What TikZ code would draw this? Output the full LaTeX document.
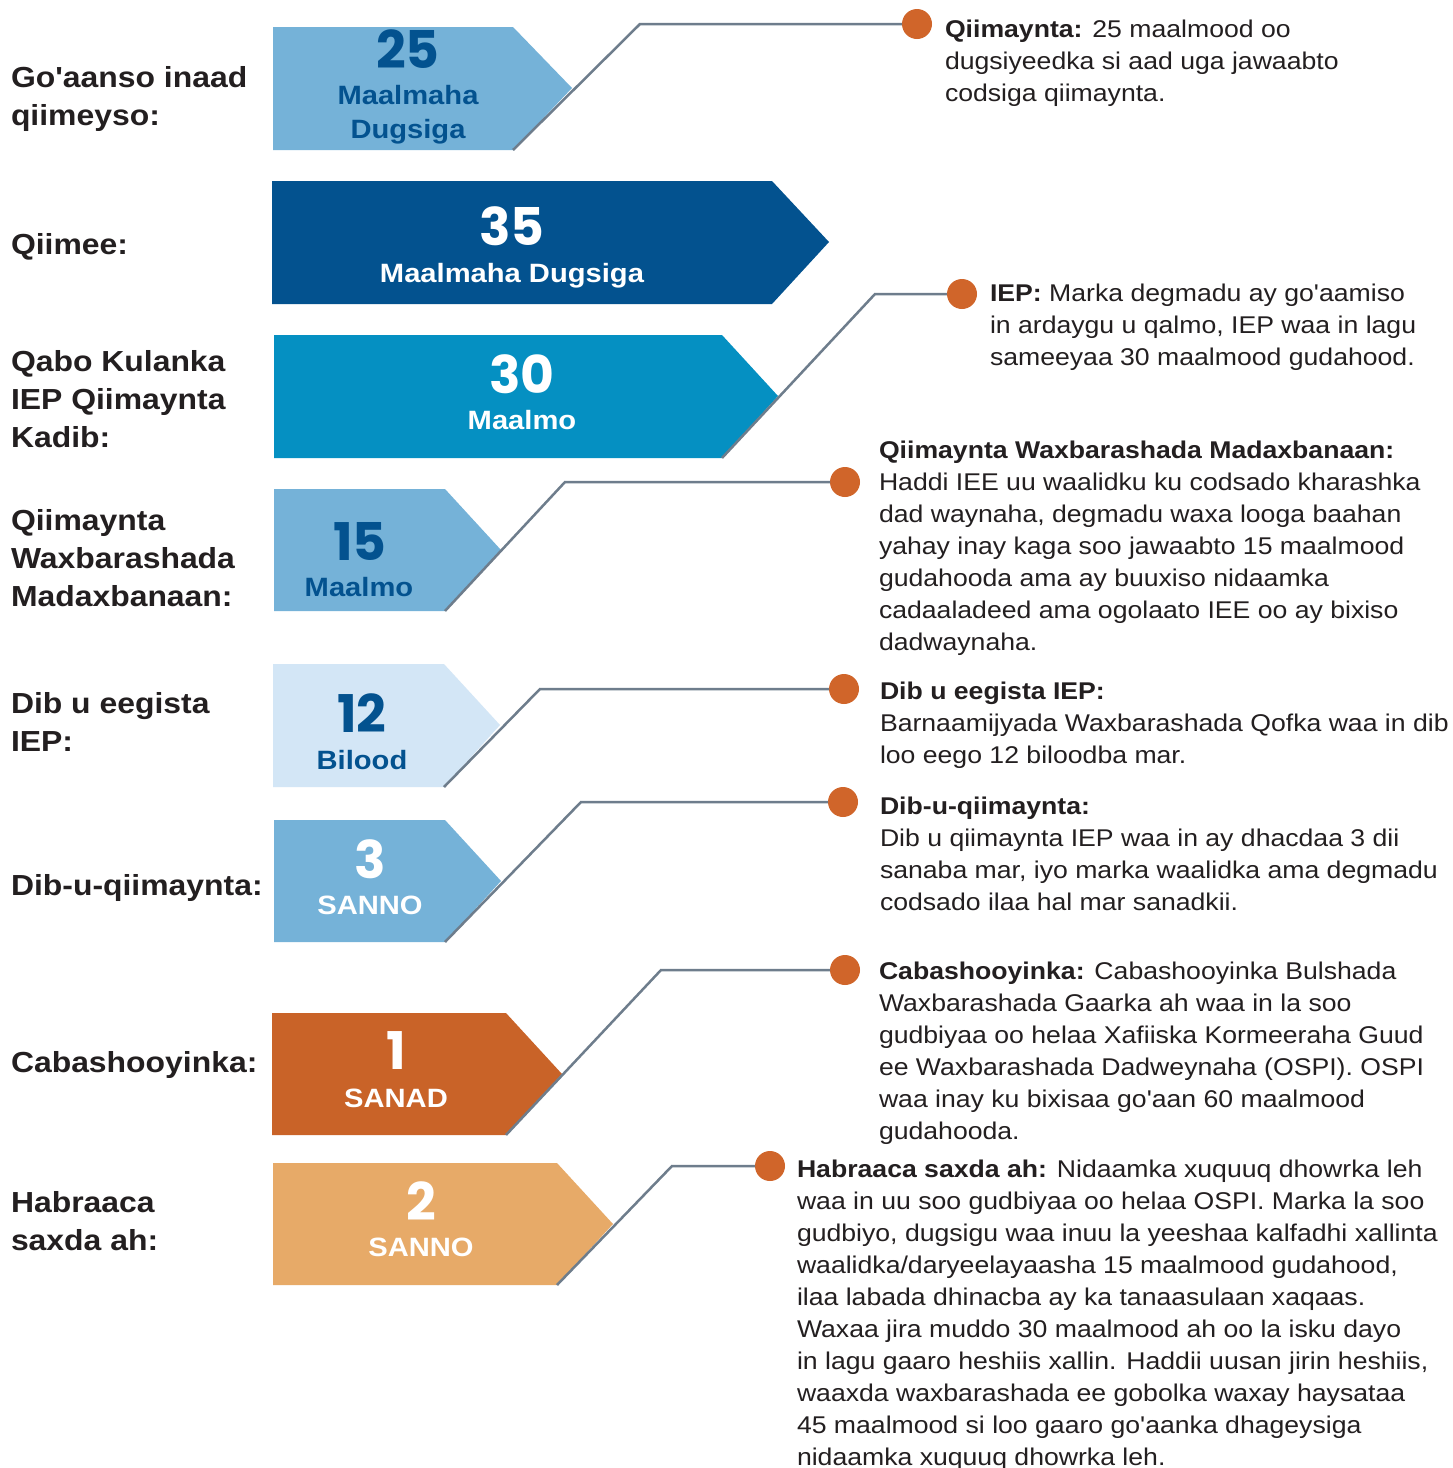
\documentclass[tikz,border=0pt]{standalone}
\usepackage{fontspec}
\setmainfont[Ligatures=TeXOff,FakeStretch=1.1]{Liberation Sans}
\newfontfamily\numfont{Poppins}

\definecolor{ink}{HTML}{231F20}
\definecolor{skyblue}{HTML}{75B2D8}
\definecolor{deepblue}{HTML}{03528F}
\definecolor{oceanblue}{HTML}{0590C2}
\definecolor{paleblue}{HTML}{D3E6F6}
\definecolor{rust}{HTML}{C96328}
\definecolor{sand}{HTML}{E7AA68}
\definecolor{dotorange}{HTML}{D0652A}
\definecolor{linkgray}{HTML}{6E7D8C}

\begin{document}
\begin{tikzpicture}
  [x=1pt,y=-1pt,
   every node/.style={inner sep=0pt,outer sep=0pt},
   lab/.style={anchor=north west,align=left,text=ink,font=\bfseries\fontsize{29}{38}\selectfont},
   info/.style={anchor=north west,align=left,text=ink,font=\fontsize{24.2}{32}\selectfont},
   num/.style={font=\numfont\bfseries\fontsize{52}{52}\selectfont},
   span/.style={anchor=base,font=\bfseries\fontsize{26.5}{34}\selectfont},
   bullet/.style={circle,fill=dotorange,minimum size=30pt},
   link/.style={draw=linkgray,line width=2.5pt}]
  \useasboundingbox[fill=white] (0,0) rectangle (1453,1468);

  % arrows
  \fill[skyblue]   (273,27) -- (513,27) -- (572,88) -- (513,150) -- (273,150) -- cycle;
  \fill[deepblue]  (272,181) -- (772,181) -- (829,242) -- (772,304) -- (272,304) -- cycle;
  \fill[oceanblue] (274,335) -- (722,335) -- (778,396) -- (722,458) -- (274,458) -- cycle;
  \fill[skyblue]   (274,489) -- (445,489) -- (501,550) -- (445,611) -- (274,611) -- cycle;
  \fill[paleblue]  (273,664) -- (444,664) -- (500,725) -- (444,787) -- (273,787) -- cycle;
  \fill[skyblue]   (274,820) -- (445,820) -- (501,881) -- (445,942) -- (274,942) -- cycle;
  \fill[rust]      (272,1013) -- (506,1013) -- (562,1074) -- (506,1135) -- (272,1135) -- cycle;
  \fill[sand]      (273,1163) -- (557,1163) -- (613,1224) -- (557,1285) -- (273,1285) -- cycle;

  % lower corners where the leaders start
  \coordinate (c1) at (513,150);
  \coordinate (c3) at (722,458);
  \coordinate (c4) at (445,611);
  \coordinate (c5) at (444,787);
  \coordinate (c6) at (445,942);
  \coordinate (c7) at (506,1135);
  \coordinate (c8) at (557,1285);

  % bends
  \coordinate (k1) at (640,24);
  \coordinate (k3) at (875,294);
  \coordinate (k4) at (565,482);
  \coordinate (k5) at (540,689);
  \coordinate (k6) at (581,802);
  \coordinate (k7) at (661,970);
  \coordinate (k8) at (672,1166);

  % dots
  \node[bullet] (d1) at (917,24) {};
  \node[bullet] (d3) at (962,294) {};
  \node[bullet] (d4) at (845,482) {};
  \node[bullet] (d5) at (844,689) {};
  \node[bullet] (d6) at (843,802) {};
  \node[bullet] (d7) at (845,970) {};
  \node[bullet] (d8) at (770,1166) {};

  % leaders
  \draw[link] (c1) -- (k1) -- (d1);
  \draw[link] (c3) -- (k3) -- (d3);
  \draw[link] (c4) -- (k4) -- (d4);
  \draw[link] (c5) -- (k5) -- (d5);
  \draw[link] (c6) -- (k6) -- (d6);
  \draw[link] (c7) -- (k7) -- (d7);
  \draw[link] (c8) -- (k8) -- (d8);

  % numbers and units
  \node[num,text=deepblue] (n1) at (408,49) {25};
  \node[span,text=deepblue,anchor=north,align=center] (u1) at (408,85) {Maalmaha\\Dugsiga};
  \node[num,text=white] (n2) at (512,226) {35};
  \node[span,text=white] (u2) at (512,282) {Maalmaha Dugsiga};
  \node[num,text=white] (n3) at (522,374) {30};
  \node[span,text=white] (u3) at (522,429) {Maalmo};
  \node[num,text=deepblue] (n4) at (360,541) {15};
  \node[span,text=deepblue] (u4) at (359,596) {Maalmo};
  \node[num,text=deepblue] (n5) at (362,713) {12};
  \node[span,text=deepblue] (u5) at (362,769) {Bilood};
  \node[num,text=white] (n6) at (370,859) {3};
  \node[span,text=white] (u6) at (370,914) {SANNO};
  \node[num,text=white] (n7) at (396,1051) {1};
  \node[span,text=white] (u7) at (396,1107) {SANAD};
  \node[num,text=white] (n8) at (421,1201) {2};
  \node[span,text=white] (u8) at (421,1256) {SANNO};

  % left labels
  \node[lab] (l1) at (11,66) {Go'aanso inaad\\qiimeyso:};
  \node[lab] (l2) at (11,233) {Qiimee:};
  \node[lab] (l3) at (11,350) {Qabo Kulanka\\IEP Qiimaynta\\Kadib:};
  \node[lab] (l4) at (11,509) {Qiimaynta\\Waxbarashada\\Madaxbanaan:};
  \node[lab] (l5) at (11,692) {Dib u eegista\\IEP:};
  \node[lab] (l6) at (11,874) {Dib-u-qiimaynta:};
  \node[lab] (l7) at (11,1051) {Cabashooyinka:};
  \node[lab] (l8) at (11,1191) {Habraaca\\saxda ah:};

  % notes
  \node[info] (t1) at (945,20) {\textbf{Qiimaynta:} 25 maalmood oo\\dugsiyeedka si aad uga jawaabto\\codsiga qiimaynta.};
  \node[info] (t3) at (990,284) {\textbf{IEP:} Marka degmadu ay go'aamiso\\in ardaygu u qalmo, IEP waa in lagu\\sameeyaa 30 maalmood gudahood.};
  \node[info] (t4) at (879,441) {\textbf{Qiimaynta Waxbarashada Madaxbanaan:}\\Haddi IEE uu waalidku ku codsado kharashka\\dad waynaha, degmadu waxa looga baahan\\yahay inay kaga soo jawaabto 15 maalmood\\gudahooda ama ay buuxiso nidaamka\\cadaaladeed ama ogolaato IEE oo ay bixiso\\dadwaynaha.};
  \node[info] (t5) at (880,682) {\textbf{Dib u eegista IEP:}\\Barnaamijyada Waxbarashada Qofka waa in dib\\loo eego 12 biloodba mar.};
  \node[info] (t6) at (880,797) {\textbf{Dib-u-qiimaynta:}\\Dib u qiimaynta IEP waa in ay dhacdaa 3 dii\\sanaba mar, iyo marka waalidka ama degmadu\\codsado ilaa hal mar sanadkii.};
  \node[info] (t7) at (879,962) {\textbf{Cabashooyinka:} Cabashooyinka Bulshada\\Waxbarashada Gaarka ah waa in la soo\\gudbiyaa oo helaa Xafiiska Kormeeraha Guud\\ee Waxbarashada Dadweynaha (OSPI). OSPI\\waa inay ku bixisaa go'aan 60 maalmood\\gudahooda.};
  \node[info] (t8) at (797,1160) {\textbf{Habraaca saxda ah:} Nidaamka xuquuq dhowrka leh\\waa in uu soo gudbiyaa oo helaa OSPI. Marka la soo\\gudbiyo, dugsigu waa inuu la yeeshaa kalfadhi xallinta\\waalidka/daryeelayaasha 15 maalmood gudahood,\\ilaa labada dhinacba ay ka tanaasulaan xaqaas.\\Waxaa jira muddo 30 maalmood ah oo la isku dayo\\in lagu gaaro heshiis xallin. Haddii uusan jirin heshiis,\\waaxda waxbarashada ee gobolka waxay haysataa\\45 maalmood si loo gaaro go'aanka dhageysiga\\nidaamka xuquuq dhowrka leh.};
\end{tikzpicture}
\end{document}
